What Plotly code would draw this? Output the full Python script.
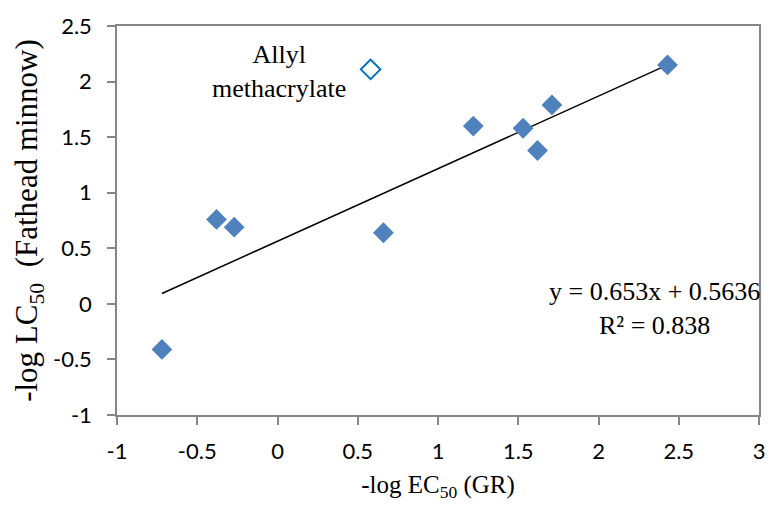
import plotly.graph_objects as go

# Data
x_filled = [-0.72, -0.38, -0.27, 0.66, 1.22, 1.53, 1.62, 1.71, 2.43]
y_filled = [-0.41, 0.76, 0.69, 0.64, 1.60, 1.58, 1.38, 1.79, 2.15]
x_outlier = [0.58]
y_outlier = [2.11]
slope = 0.653
intercept = 0.5636
r2 = 0.838

x_ticks = [-1, -0.5, 0, 0.5, 1, 1.5, 2, 2.5, 3]
y_ticks = [-1, -0.5, 0, 0.5, 1, 1.5, 2, 2.5]

trend_x = [min(x_filled), max(x_filled)]
trend_y = [slope * v + intercept for v in trend_x]

fig = go.Figure()
fig.add_trace(go.Scatter(x=trend_x, y=trend_y, mode="lines",
                         line=dict(color="black", width=1.5), showlegend=False))
fig.add_trace(go.Scatter(x=x_filled, y=y_filled, mode="markers",
                         marker=dict(symbol="diamond", size=16, color="#4F81BD",
                                     line=dict(width=0)), showlegend=False))
fig.add_trace(go.Scatter(x=x_outlier, y=y_outlier, mode="markers",
                         marker=dict(symbol="diamond-open", size=15, color="#0070C0",
                                     line=dict(width=2)), showlegend=False))

serif = "Liberation Serif, Times New Roman, serif"
sans = "Lato, Carlito, Open Sans, sans-serif"

fig.add_annotation(x=0.01, y=2.09, xref="x", yref="y", text="Allyl<br>methacrylate",
                   showarrow=False, font=dict(family=serif, size=26, color="black"),
                   xanchor="center", yanchor="middle", align="center")
fig.add_annotation(x=2.35, y=-0.04, xref="x", yref="y",
                   text=f"y = {slope}x + {intercept}<br>R² = {r2}",
                   showarrow=False, font=dict(family=serif, size=26, color="black"),
                   xanchor="center", yanchor="middle", align="center")

axis_common = dict(showline=True, linecolor="#868686", linewidth=1.5, mirror=True,
                   ticks="outside", ticklen=8, tickcolor="#868686", tickwidth=1.5,
                   showgrid=False, zeroline=False,
                   tickfont=dict(family=sans, size=22, color="black"))

fig.update_xaxes(range=[-1, 3], tickvals=x_ticks, ticktext=[f"{v:g}" for v in x_ticks],
                 ticklabelstandoff=8,
                 title=dict(text="-log EC<sub>50</sub> (GR)",
                            font=dict(family=serif, size=25, color="black"), standoff=12),
                 **axis_common)
fig.update_yaxes(range=[-1, 2.5], tickvals=y_ticks, ticktext=[f"{v:g}" for v in y_ticks],
                 ticklabelstandoff=11,
                 title=dict(text="-log LC<sub>50</sub>&nbsp; (Fathead minnow)",
                            font=dict(family=serif, size=31, color="black"), standoff=6),
                 **axis_common)

fig.update_layout(width=777, height=513, margin=dict(l=117, r=12, t=21, b=98),
                  plot_bgcolor="white", paper_bgcolor="white")

fig.write_html("out.html")
